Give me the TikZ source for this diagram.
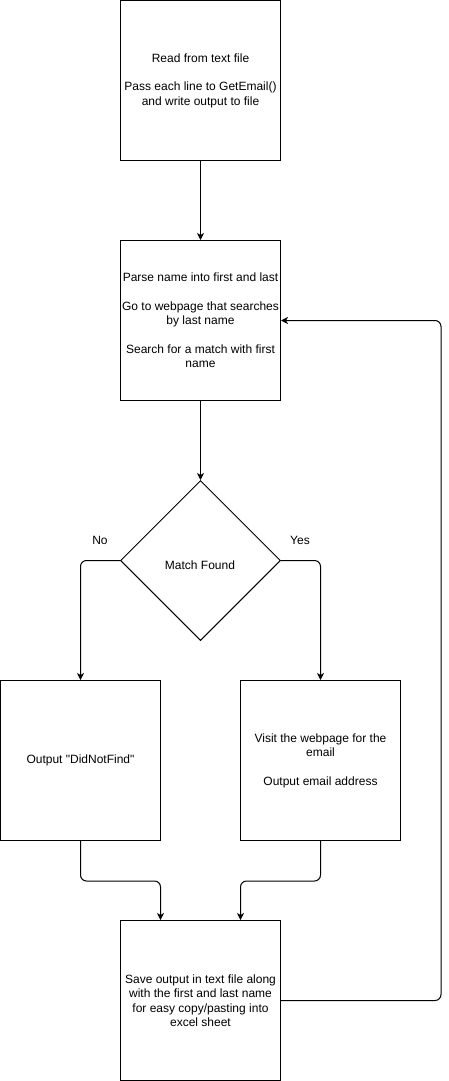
\documentclass[tikz,border=0pt]{standalone}
\usepackage{fontspec}
\setmainfont{Liberation Sans}
\usetikzlibrary{shapes.geometric,arrows.meta}
\begin{document}
\begin{tikzpicture}[x=1pt,y=-1pt,
  every node/.style={font=\fontsize{12}{14.4}\selectfont},
  box/.style={draw,line width=1pt,rectangle,minimum width=160pt,minimum height=160pt,inner sep=0pt},
  txt/.style={inner sep=0pt,align=center},
  dec/.style={draw,line width=1pt,diamond,aspect=1,minimum width=160pt,minimum height=160pt,inner sep=0pt},
  lbl/.style={inner sep=0pt},
  conn/.style={line width=1pt,rounded corners=6pt,-{Stealth[length=7pt,width=7pt,inset=2pt]}}]
\useasboundingbox (0,0) rectangle (449,1081);
\node[box] (read) at (200.5,80.5) {};
\node[txt] (read-t) at (read) {Read from text file\\[14.4pt]Pass each line to GetEmail()\\and write output to file};
\node[box] (parse) at (200.5,320.5) {};
\node[txt] (parse-t) at (parse) {Parse name into first and last\\[14.4pt]Go to webpage that searches\\by last name\\[14.4pt]Search for a match with first\\name};
\node[dec] (match) at (200.5,560.5) {};
\node[lbl] (match-t) at (200,565) {Match Found};
\node[lbl] (no) at (100,540) {No};
\node[lbl] (yes) at (300,540) {Yes};
\node[box] (notfound) at (80.5,760.5) {};
\node[txt] (notfound-t) at (notfound) {Output \textquotedbl DidNotFind\textquotedbl};
\node[box] (visit) at (320.5,760.5) {};
\node[txt] (visit-t) at (visit) {Visit the webpage for the\\email\\[14.4pt]Output email address};
\node[box] (save) at (200.5,1000.5) {};
\node[txt] (save-t) at (save) {Save output in text file along\\with the first and last name\\for easy copy/pasting into\\excel sheet};
\draw[conn] (read.south) -- (parse.north);
\draw[conn] (parse.south) -- (match.north);
\draw[conn] (match.west) -| (notfound.north);
\draw[conn] (match.east) -| (visit.north);
\draw[conn] (notfound.south) -- ++(0,40) -| ([xshift=-40pt]save.north);
\draw[conn] (visit.south) -- ++(0,40) -| ([xshift=40pt]save.north);
\draw[conn] (save.east) -- ++(160,0) |- (parse.east);
\end{tikzpicture}
\end{document}
